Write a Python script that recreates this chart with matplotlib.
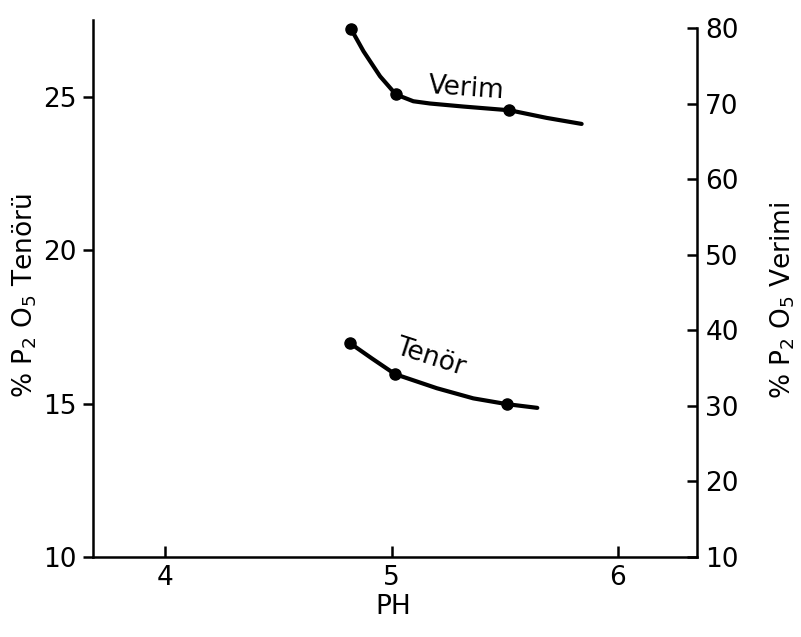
import matplotlib
matplotlib.use("Agg")
import matplotlib.pyplot as plt

# --- data ---
ph_ticks = [4, 5, 6]
left_ticks = [10, 15, 20, 25]
right_ticks = [10, 20, 30, 40, 50, 60, 70, 80]

# Verim (right axis, % P2O5 yield): drawn curve and measured points
verim_curve_x = [4.82, 4.876, 4.949, 5.019, 5.096, 5.17, 5.317, 5.523, 5.685, 5.84]
verim_curve_y = [79.9, 76.9, 73.6, 71.2, 70.3, 70.0, 69.6, 69.1, 68.1, 67.3]
verim_pts_x = [4.82, 5.02, 5.52]
verim_pts_y = [79.9, 71.2, 69.1]

# Tenör (left axis, % P2O5 grade): drawn curve and measured points
tenor_curve_x = [4.814, 4.913, 5.015, 5.2, 5.361, 5.511, 5.644]
tenor_curve_y = [16.98, 16.47, 15.96, 15.5, 15.17, 14.98, 14.86]
tenor_pts_x = [4.814, 5.015, 5.511]
tenor_pts_y = [16.98, 15.96, 14.98]

plt.rcParams['font.family'] = ['Liberation Sans Narrow', 'DejaVu Sans']
FS = 19

fig = plt.figure(figsize=(8.01, 6.37), dpi=100)
ax = fig.add_axes([93/801, 1-557/637, (697-93)/801, (557-20)/637])
ax2 = ax.twinx()

ax.set_xlim(3.68, 6.35)
ax.set_ylim(10, 27.5)
ax2.set_ylim(10, 81.05)

ax.plot(tenor_curve_x, tenor_curve_y, color='black', lw=3, solid_capstyle='round',
        solid_joinstyle='round')
ax.plot(tenor_pts_x, tenor_pts_y, 'o', color='black', ms=8)
ax2.plot(verim_curve_x, verim_curve_y, color='black', lw=3, solid_capstyle='round',
         solid_joinstyle='round')
ax2.plot(verim_pts_x, verim_pts_y, 'o', color='black', ms=8)

ax.text(5.33, 72.0, 'Verim', transform=ax2.transData, fontsize=FS,
        rotation=-4, ha='center', va='center')
ax.text(5.17, 16.5, 'Tenör', fontsize=FS, rotation=-18, ha='center', va='center')

for a in (ax, ax2):
    a.spines['top'].set_visible(False)
    for s in a.spines.values():
        s.set_linewidth(1.8)
ax.spines['right'].set_visible(False)
ax2.spines['left'].set_visible(False)
ax2.spines['bottom'].set_visible(False)
ax2.spines['right'].set_bounds(10, 80)

ax.set_xticks(ph_ticks)
ax.set_yticks(left_ticks)
ax2.set_yticks(right_ticks)
ax.xaxis.set_tick_params(which='both', direction='in', length=8, width=1.8,
                         labelsize=FS, pad=6)
ax.yaxis.set_tick_params(which='both', direction='out', length=7, width=1.8,
                         labelsize=FS, pad=5)
ax2.yaxis.set_tick_params(which='both', direction='in', length=7, width=1.8,
                          labelsize=FS, pad=6, left=False, right=True)

ax.set_xlabel('PH', fontsize=FS)
ax.xaxis.set_label_coords((393-93)/604, -(594-557)/537)
ax.set_ylabel('% P$_2$ O$_5$ Tenörü', fontsize=FS)
ax.yaxis.set_label_coords((39-93)/604, (557-296)/537)
ax2.set_ylabel('% P$_2$ O$_5$ Verimi', fontsize=FS)
ax2.yaxis.set_label_coords((769-93)/604, (557-300)/537)

fig.savefig('out.png', dpi=100)
